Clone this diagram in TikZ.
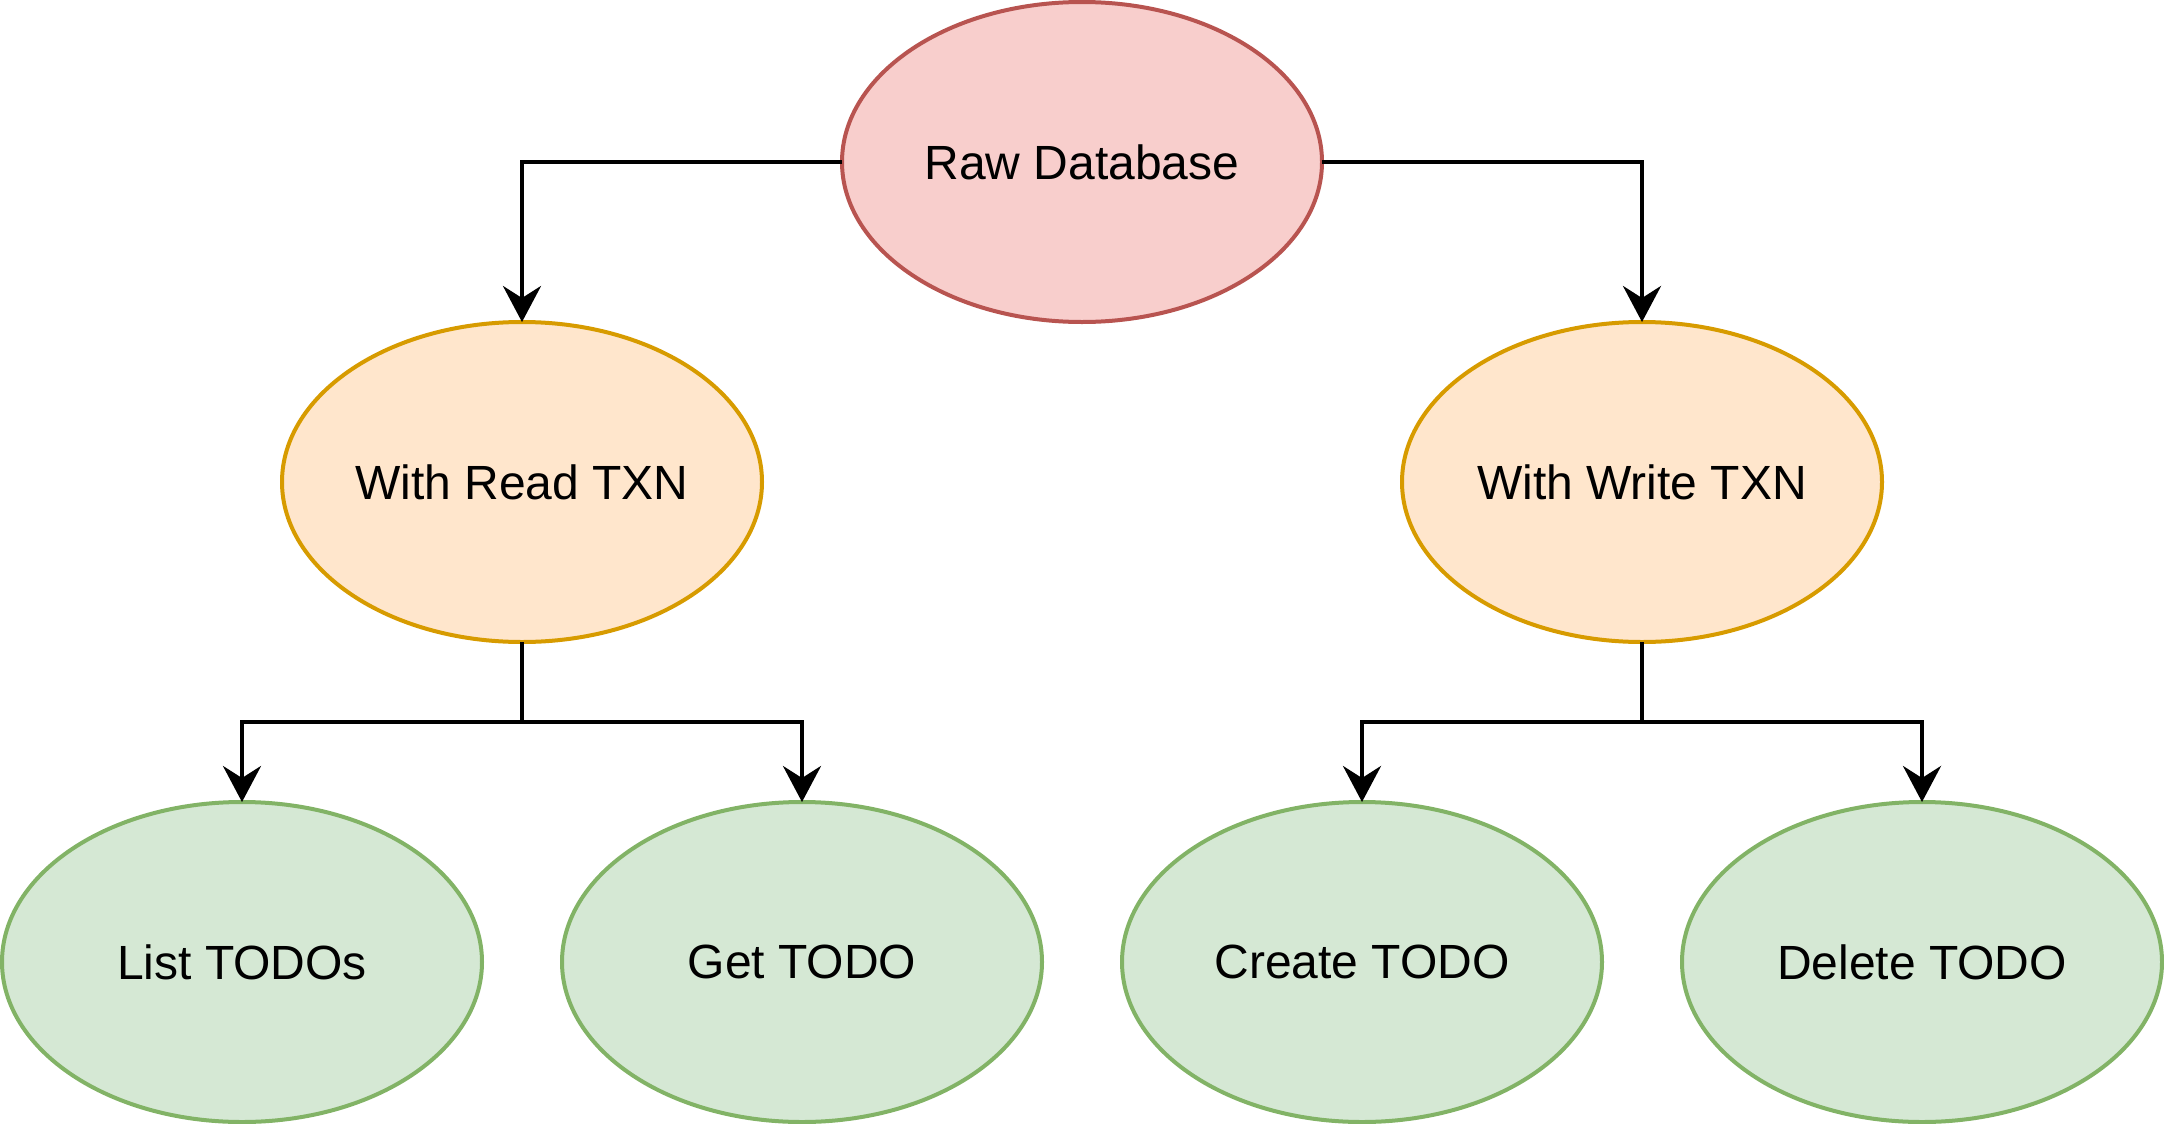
\documentclass[tikz,border=0pt]{standalone}
\usepackage{fontspec}
\setmainfont{Liberation Sans}
\usetikzlibrary{shapes.geometric,arrows.meta}
\definecolor{redfill}{HTML}{F8CECC}
\definecolor{redline}{HTML}{B85450}
\definecolor{orfill}{HTML}{FFE6CC}
\definecolor{orline}{HTML}{D79B00}
\definecolor{grfill}{HTML}{D5E8D4}
\definecolor{grline}{HTML}{82B366}
\tikzset{
  oval/.style={ellipse, minimum width=240pt, minimum height=160pt, inner sep=0pt, outer sep=0pt, line width=2pt, font=\fontsize{24}{28}\selectfont},
  rawstyle/.style={oval, fill=redfill, draw=redline},
  txnstyle/.style={oval, fill=orfill, draw=orline},
  opstyle/.style={oval, fill=grfill, draw=grline},
  conn/.style={line width=2pt, -{Stealth[length=18pt, width=19pt, inset=6pt]}},
  plain/.style={line width=2pt}
}
\begin{document}
\begin{tikzpicture}[x=1pt, y=-1pt]
\useasboundingbox (0,0) rectangle (1082,562);
\node[rawstyle] (raw) at (541,81) {Raw Database};
\node[txnstyle] (read) at (261,241) {With Read TXN};
\node[txnstyle] (write) at (821,241) {With Write TXN};
\node[opstyle] (list) at (121,481) {List TODOs};
\node[opstyle] (get) at (401,481) {Get TODO};
\node[opstyle] (create) at (681,481) {Create TODO};
\node[opstyle] (delete) at (961,481) {Delete TODO};
\coordinate (rj) at (261,361);
\coordinate (wj) at (821,361);
\draw[conn] (raw.west) -| (read.north);
\draw[conn] (raw.east) -| (write.north);
\draw[plain] (read.south) -- (rj);
\draw[conn] (rj) -| (list.north);
\draw[conn] (rj) -| (get.north);
\draw[plain] (write.south) -- (wj);
\draw[conn] (wj) -| (create.north);
\draw[conn] (wj) -| (delete.north);
\end{tikzpicture}
\end{document}
